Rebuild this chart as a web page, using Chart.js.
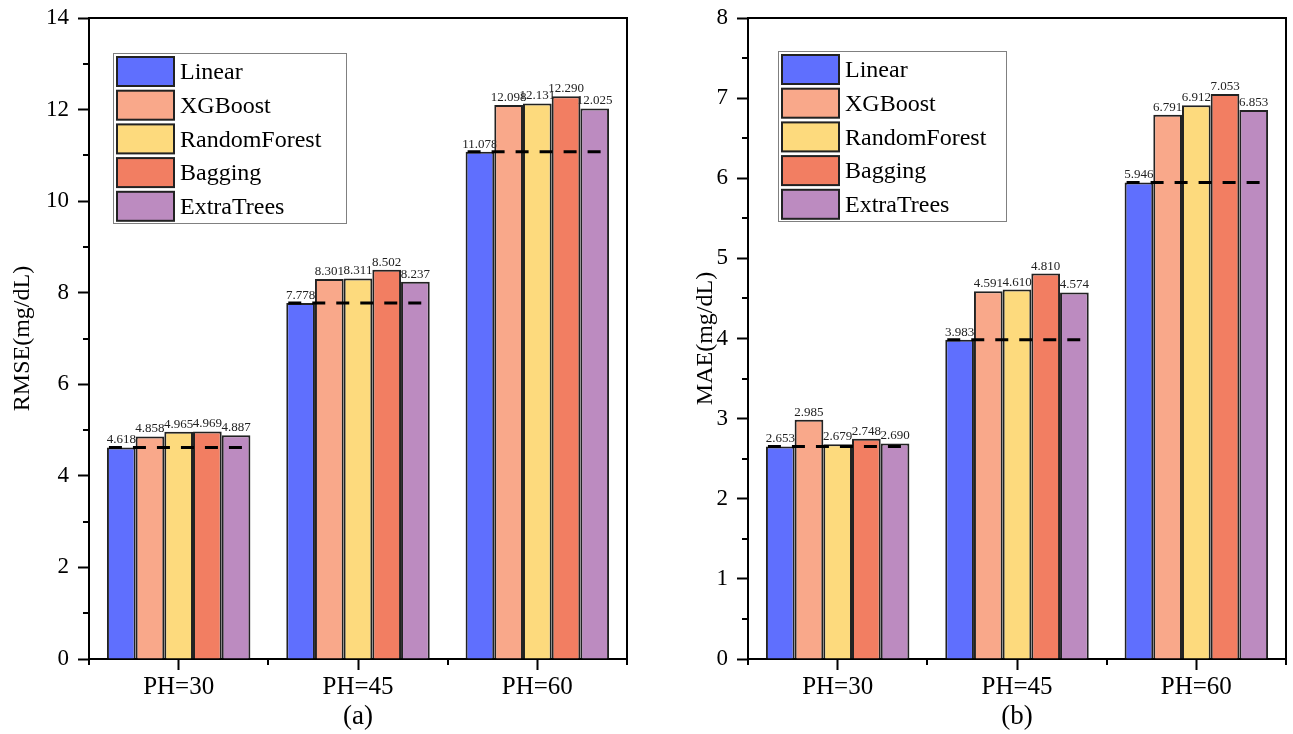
<!DOCTYPE html>
<html>
<head>
  <meta charset="utf-8">
  <script src="https://cdn.jsdelivr.net/npm/chart.js@4/dist/chart.umd.min.js"></script>
  <style>
    body { margin: 0; background: #fff; }
    #wrap { position: relative; width: 1293px; height: 734px; }
    canvas { position: absolute; top: 0; }
  </style>
</head>
<body>
  <div id="wrap">
    <canvas id="rmse" width="645" height="734" style="left:0"></canvas>
    <canvas id="mae" width="648" height="734" style="left:645px"></canvas>
  </div>
  <script>
    const horizons = ['PH=30', 'PH=45', 'PH=60'];
    const models = ['Linear', 'XGBoost', 'RandomForest', 'Bagging', 'ExtraTrees'];
    const colors = ['#5f6ffe', '#f9a88a', '#fdda7d', '#f27e62', '#bc8bc0'];

    const rmseLinear = [4.618, 7.778, 11.078];
    const rmseXGBoost = [4.858, 8.301, 12.098];
    const rmseRandomForest = [4.965, 8.311, 12.131];
    const rmseBagging = [4.969, 8.502, 12.290];
    const rmseExtraTrees = [4.887, 8.237, 12.025];

    const maeLinear = [2.653, 3.983, 5.946];
    const maeXGBoost = [2.985, 4.591, 6.791];
    const maeRandomForest = [2.679, 4.610, 6.912];
    const maeBagging = [2.748, 4.810, 7.053];
    const maeExtraTrees = [2.690, 4.574, 6.853];

    const serif = '"Liberation Serif", "Times New Roman", serif';

    // value labels go under the bars, the dashed Linear baseline over them,
    // then the box frame, minor ticks and the legend on top
    const extras = {
      id: 'extras',
      beforeDatasetsDraw(chart) {
        const { ctx } = chart;
        ctx.save();
        ctx.font = '13px ' + serif;
        ctx.fillStyle = '#222';
        ctx.textAlign = 'center';
        ctx.textBaseline = 'bottom';
        chart.data.datasets.forEach((ds, d) => {
          chart.getDatasetMeta(d).data.forEach((bar, i) => {
            ctx.fillText(ds.data[i].toFixed(3), bar.x, bar.y - 1);
          });
        });
        ctx.restore();
      },
      afterDatasetsDraw(chart) {
        const { ctx, scales } = chart;
        const first = chart.getDatasetMeta(0).data;
        const last = chart.getDatasetMeta(chart.data.datasets.length - 1).data;
        ctx.save();
        ctx.strokeStyle = '#000';
        ctx.lineWidth = 3;
        ctx.setLineDash([13, 11]);
        first.forEach((bar, i) => {
          const y = scales.y.getPixelForValue(chart.data.datasets[0].data[i]);
          ctx.beginPath();
          ctx.moveTo(bar.x - bar.width / 2 + 2, y);
          ctx.lineTo(last[i].x + last[i].width / 2 - 8, y);
          ctx.stroke();
        });
        ctx.restore();
      },
      afterDraw(chart, args, opts) {
        const { ctx, chartArea: a, scales } = chart;
        ctx.save();
        ctx.strokeStyle = '#000';
        ctx.lineWidth = 2;
        // top and right sides of the frame
        ctx.beginPath();
        ctx.moveTo(a.left, a.top);
        ctx.lineTo(a.right, a.top);
        ctx.lineTo(a.right, a.bottom);
        ctx.stroke();
        // minor ticks
        ctx.beginPath();
        const step = opts.step;
        for (let v = step / 2; v < scales.y.max; v += step) {
          const y = Math.round(scales.y.getPixelForValue(v));
          ctx.moveTo(a.left - 6, y);
          ctx.lineTo(a.left, y);
        }
        const n = chart.data.labels.length;
        for (let i = 0; i <= n; i++) {
          const x = Math.round(a.left + i * (a.right - a.left) / n);
          ctx.moveTo(x, a.bottom);
          ctx.lineTo(x, a.bottom + 6);
        }
        ctx.stroke();

        // legend
        const lx = a.left + opts.legendX;
        const ly = a.top + opts.legendY;
        ctx.fillStyle = '#fff';
        ctx.fillRect(lx, ly, opts.legendW, 170);
        ctx.strokeStyle = '#808080';
        ctx.lineWidth = 1;
        ctx.strokeRect(lx + 0.5, ly + 0.5, opts.legendW, 170);
        ctx.font = '24px ' + serif;
        ctx.textAlign = 'left';
        ctx.textBaseline = 'middle';
        chart.data.datasets.forEach((ds, i) => {
          const sy = ly + 4 + i * 33.7;
          ctx.fillStyle = ds.backgroundColor;
          ctx.fillRect(lx + 4, sy, 57, 29);
          ctx.strokeStyle = '#222';
          ctx.lineWidth = 2;
          ctx.strokeRect(lx + 4, sy, 57, 29);
          ctx.fillStyle = '#000';
          ctx.fillText(ds.label, lx + 67, sy + 16);
        });
        ctx.restore();
      }
    };

    function makeChart(id, series, yMax, step, yTitle, xTitle, layout) {
      return new Chart(document.getElementById(id), {
        type: 'bar',
        data: {
          labels: horizons,
          datasets: models.map((m, i) => ({
            label: m,
            data: series[i],
            backgroundColor: colors[i],
            borderColor: '#222',
            borderWidth: 2,
            categoryPercentage: 0.8,
            barPercentage: 1
          }))
        },
        options: {
          responsive: false,
          devicePixelRatio: 1,
          animation: false,
          layout: { padding: { top: 18, right: layout.right, left: 0, bottom: 0 } },
          plugins: {
            legend: { display: false },
            tooltip: { enabled: false },
            extras: { step: step, legendX: layout.legendX, legendY: layout.legendY, legendW: layout.legendW }
          },
          scales: {
            x: {
              border: { color: '#000', width: 2 },
              grid: { offset: false, drawOnChartArea: false, tickLength: 11, tickWidth: 2, tickColor: '#000' },
              ticks: { color: '#000', font: { family: serif, size: 25 }, padding: 2 },
              title: { display: true, text: xTitle, color: '#000', font: { family: serif, size: 27 }, padding: { top: 0, bottom: 1 } },
              afterFit(scale) {
                scale.height = 75;
                scale.paddingLeft = 0;
                scale.paddingRight = 0;
              }
            },
            y: {
              min: 0,
              max: yMax,
              border: { color: '#000', width: 2 },
              grid: { drawOnChartArea: false, tickLength: 11, tickWidth: 2, tickColor: '#000' },
              ticks: { stepSize: step, color: '#000', font: { family: serif, size: 23 }, padding: 9 },
              title: { display: true, text: yTitle, color: '#000', font: { family: serif, size: 24 }, padding: { top: layout.titlePad, bottom: 0 } },
              afterFit(scale) {
                scale.width = layout.axisWidth;
                scale.paddingTop = 0;
                scale.paddingBottom = 0;
              }
            }
          }
        },
        plugins: [extras]
      });
    }

    makeChart('rmse',
      [rmseLinear, rmseXGBoost, rmseRandomForest, rmseBagging, rmseExtraTrees],
      14, 2, 'RMSE(mg/dL)', '(a)',
      { right: 18, axisWidth: 89, titlePad: 8, legendX: 24, legendY: 35, legendW: 233 });

    makeChart('mae',
      [maeLinear, maeXGBoost, maeRandomForest, maeBagging, maeExtraTrees],
      8, 1, 'MAE(mg/dL)', '(b)',
      { right: 7, axisWidth: 103, titlePad: 46, legendX: 30, legendY: 33, legendW: 228 });
  </script>
</body>
</html>
